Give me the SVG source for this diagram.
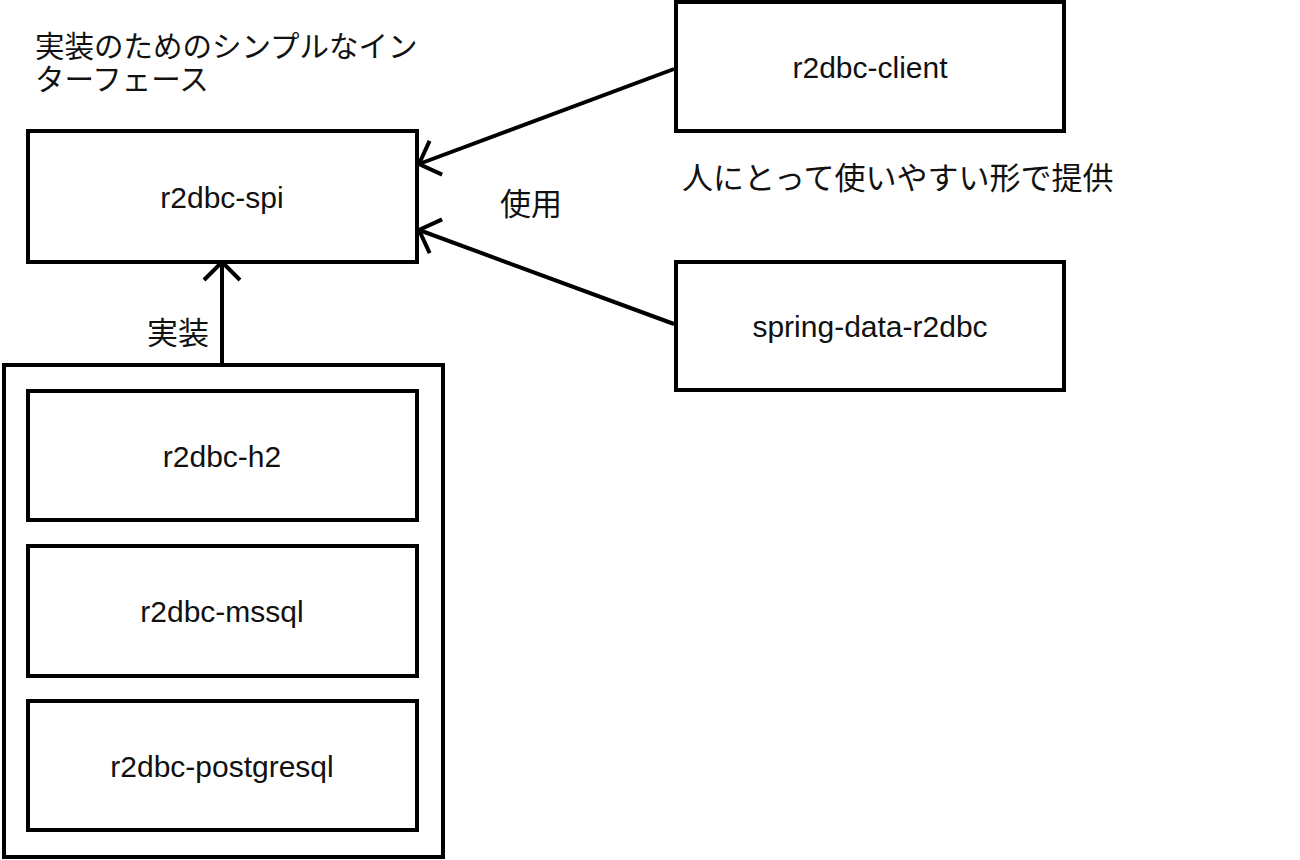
<svg xmlns="http://www.w3.org/2000/svg" width="1300" height="860" viewBox="0 0 1300 860">
<style>
rect{fill:#fff;stroke:#000;stroke-width:4}
text{font-family:"Liberation Sans","Noto Sans CJK JP",sans-serif;font-size:30px;fill:#111}
.j{font-size:31px}
.k{font-size:29.5px}
.c{text-anchor:middle;dominant-baseline:central}
.e{stroke:#000;stroke-width:4;fill:none}
</style>
<defs>
<marker id="b" viewBox="0 0 40 40" markerWidth="40" markerHeight="40" refX="38" refY="20" orient="auto" markerUnits="userSpaceOnUse"><path d="M20,2 L38,20 L20,38" fill="none" stroke="#000" stroke-width="4"/></marker></defs>
<rect width="1300" height="860" style="stroke:none"/>
<g id="container"><rect x="4" y="365" width="439" height="492"/></g>
<g id="spi"><rect x="28" y="131" width="389" height="131"/><text class="c" x="222" y="197">r2dbc-spi</text></g>
<g id="client"><rect x="676" y="2" width="388" height="129"/><text class="c" x="870" y="67">r2dbc-client</text></g>
<g id="spring"><rect x="676" y="262" width="388" height="128"/><text class="c" x="870" y="326">spring-data-r2dbc</text></g>
<g id="h2"><rect x="28" y="391" width="389" height="129"/><text class="c" x="222" y="456">r2dbc-h2</text></g>
<g id="mssql"><rect x="28" y="546" width="389" height="130"/><text class="c" x="222" y="611">r2dbc-mssql</text></g>
<g id="pg"><rect x="28" y="701" width="389" height="129"/><text class="c" x="222" y="766">r2dbc-postgresql</text></g>
<g id="connectors">
<line class="e" x1="674" y1="69" x2="419" y2="164" marker-end="url(#b)"/>
<line class="e" x1="674" y1="324" x2="419" y2="230" marker-end="url(#b)"/>
<line class="e" x1="222" y1="365" x2="222" y2="262" marker-end="url(#b)"/>
</g>
<text class="k" x="35" y="57">実装のためのシンプルなイン</text>
<text class="k" x="35" y="90">ターフェース</text>
<text class="j" x="682" y="189">人にとって使いやすい形で提供</text>
<text class="j" x="500" y="215">使用</text>
<text class="j" x="147" y="344">実装</text>
</svg>
